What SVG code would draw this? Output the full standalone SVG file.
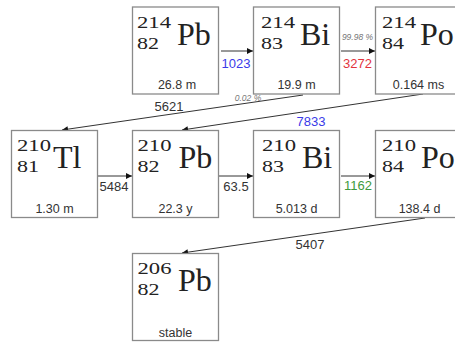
<svg xmlns="http://www.w3.org/2000/svg" width="455" height="342" viewBox="0 0 455 342">
  <defs>
    <marker id="head" viewBox="0 0 10 10" refX="10" refY="5" markerWidth="7" markerHeight="6" markerUnits="userSpaceOnUse" orient="auto">
      <path d="M0,0 L10,5 L0,10 z" fill="#111"/>
    </marker>
    <style>
      .box { fill: #fff; stroke: #8a8a8a; stroke-width: 1.3; }
      .num { font-family: "Liberation Serif", "DejaVu Serif", serif; font-size: 17.5px; fill: #222; }
      .sym { font-family: "Liberation Serif", "DejaVu Serif", serif; font-size: 32px; fill: #222; }
      .life { font-family: "Liberation Sans", Arial, sans-serif; font-size: 12.5px; fill: #333; text-anchor: middle; }
      .edge { stroke: #333; stroke-width: 1; fill: none; marker-end: url(#head); }
      .lbl { font-family: "Liberation Sans", Arial, sans-serif; font-size: 13px; fill: #333; text-anchor: middle; }
      .small { font-family: "Liberation Sans", Arial, sans-serif; font-size: 8.5px; font-style: italic; fill: #777; text-anchor: middle; }
      .blue { fill: #3a3ae8; }
      .red { fill: #e2333d; }
      .green { fill: #3d9a3d; }
    </style>
  </defs>

  <!-- decay connectors -->
  <g id="connectors">
    <line class="edge" x1="221" y1="51" x2="253" y2="51"/>
    <text class="lbl blue" x="236" y="68">1023</text>

    <line class="edge" x1="341" y1="51" x2="375" y2="51"/>
    <text class="small" x="357.5" y="40">99.98 %</text>
    <text class="lbl red" x="357.5" y="68">3272</text>

    <line class="edge" x1="303" y1="95" x2="62" y2="130"/>
    <text class="lbl" x="169" y="111">5621</text>
    <text class="small" x="248" y="101">0.02 %</text>

    <line class="edge" x1="423" y1="94" x2="182" y2="130"/>
    <text class="lbl blue" x="311" y="126">7833</text>

    <line class="edge" x1="98" y1="176" x2="132" y2="176"/>
    <text class="lbl" x="114" y="191">5484</text>

    <line class="edge" x1="219" y1="176" x2="253" y2="176"/>
    <text class="lbl" x="236" y="191">63.5</text>

    <line class="edge" x1="341" y1="176" x2="375" y2="176"/>
    <text class="lbl green" x="358" y="190">1162</text>

    <line class="edge" x1="425" y1="218" x2="182" y2="253"/>
    <text class="lbl" x="310" y="249">5407</text>
  </g>

  <!-- nuclides: mass number over atomic number, then symbol and half-life -->
  <g id="pb214">
    <rect class="box" x="132.5" y="7" width="86" height="87"/>
    <text class="num" x="137" y="28" textLength="34" lengthAdjust="spacingAndGlyphs">214</text>
    <text class="num" x="137" y="49" textLength="22" lengthAdjust="spacingAndGlyphs">82</text>
    <text class="sym" x="177" y="45">Pb</text>
    <text class="life" x="177" y="89">26.8 m</text>
  </g>
  <g id="bi214">
    <rect class="box" x="253.5" y="7" width="86" height="87"/>
    <text class="num" x="261" y="28" textLength="34" lengthAdjust="spacingAndGlyphs">214</text>
    <text class="num" x="261" y="49" textLength="22" lengthAdjust="spacingAndGlyphs">83</text>
    <text class="sym" x="300" y="45">Bi</text>
    <text class="life" x="296.5" y="89">19.9 m</text>
  </g>
  <g id="po214">
    <rect class="box" x="375.5" y="7" width="86" height="87"/>
    <text class="num" x="382" y="28" textLength="34" lengthAdjust="spacingAndGlyphs">214</text>
    <text class="num" x="382" y="49" textLength="22" lengthAdjust="spacingAndGlyphs">84</text>
    <text class="sym" x="420" y="45">Po</text>
    <text class="life" x="418.5" y="89">0.164 ms</text>
  </g>

  <g id="tl210">
    <rect class="box" x="11.5" y="130.5" width="86" height="87"/>
    <text class="num" x="17" y="151" textLength="34" lengthAdjust="spacingAndGlyphs">210</text>
    <text class="num" x="17" y="172" textLength="22" lengthAdjust="spacingAndGlyphs">81</text>
    <text class="sym" x="53" y="168">Tl</text>
    <text class="life" x="54.5" y="213">1.30 m</text>
  </g>
  <g id="pb210">
    <rect class="box" x="132.5" y="130.5" width="86" height="87"/>
    <text class="num" x="137.5" y="151" textLength="34" lengthAdjust="spacingAndGlyphs">210</text>
    <text class="num" x="137.5" y="172" textLength="22" lengthAdjust="spacingAndGlyphs">82</text>
    <text class="sym" x="178.5" y="168">Pb</text>
    <text class="life" x="175.5" y="213">22.3 y</text>
  </g>
  <g id="bi210">
    <rect class="box" x="253.5" y="130.5" width="86" height="87"/>
    <text class="num" x="262" y="151" textLength="34" lengthAdjust="spacingAndGlyphs">210</text>
    <text class="num" x="262" y="172" textLength="22" lengthAdjust="spacingAndGlyphs">83</text>
    <text class="sym" x="302" y="168">Bi</text>
    <text class="life" x="296.5" y="213">5.013 d</text>
  </g>
  <g id="po210">
    <rect class="box" x="375.5" y="130.5" width="86" height="87"/>
    <text class="num" x="382" y="151" textLength="34" lengthAdjust="spacingAndGlyphs">210</text>
    <text class="num" x="382" y="172" textLength="22" lengthAdjust="spacingAndGlyphs">84</text>
    <text class="sym" x="421" y="168">Po</text>
    <text class="life" x="419.5" y="213">138.4 d</text>
  </g>

  <g id="pb206">
    <rect class="box" x="132.5" y="253.5" width="86" height="87"/>
    <text class="num" x="137.5" y="274" textLength="34" lengthAdjust="spacingAndGlyphs">206</text>
    <text class="num" x="137.5" y="295" textLength="22" lengthAdjust="spacingAndGlyphs">82</text>
    <text class="sym" x="178" y="291">Pb</text>
    <text class="life" x="175.5" y="337">stable</text>
  </g>
</svg>
